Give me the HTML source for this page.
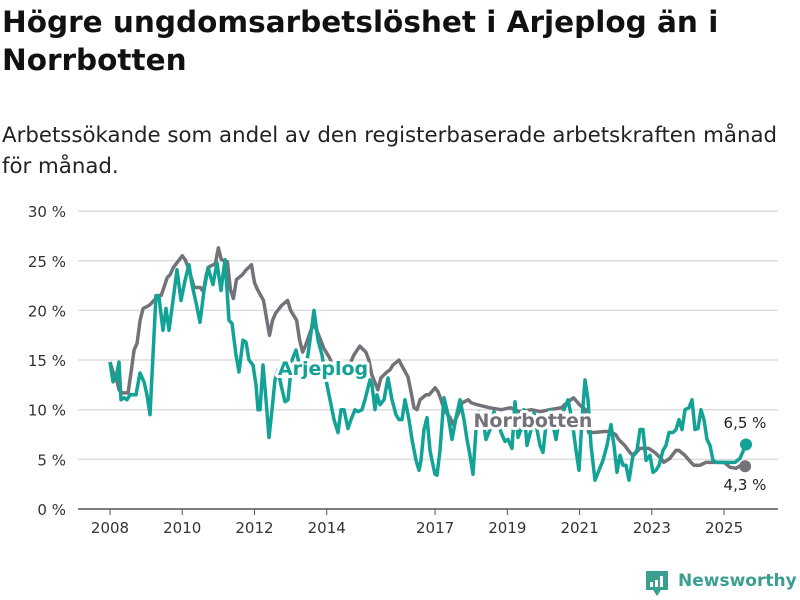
<!DOCTYPE html>
<html><head><meta charset="utf-8"><style>
body{margin:0;width:800px;height:600px;background:#fff;font-family:"Liberation Sans","DejaVu Sans",sans-serif;overflow:hidden;position:relative}
h1{position:absolute;left:2px;top:3px;margin:0;font-family:"DejaVu Sans",sans-serif;font-size:29.5px;line-height:38px;font-weight:bold;color:#111;white-space:nowrap}
.sub{position:absolute;left:2px;top:120px;margin:0;font-family:"DejaVu Sans",sans-serif;font-size:21.3px;line-height:31px;color:#222;white-space:nowrap}
svg{position:absolute;left:0;top:0}
</style></head><body>
<h1>Högre ungdomsarbetslöshet i Arjeplog än i<br>Norrbotten</h1>
<p class="sub">Arbetssökande som andel av den registerbaserade arbetskraften månad<br>för månad.</p>
<svg id="chart" width="800" height="600"></svg>
<div style="position:absolute;left:645px;top:570px;width:155px;height:28px">
<svg width="24" height="28" style="left:0;top:0"><path d="M1 1h22v19h-7l-4 6-4-6H1z" fill="#3a9e91"/><rect x="5" y="12" width="3" height="5" fill="#fff"/><rect x="10" y="10" width="3" height="7" fill="#fff"/><rect x="15" y="6" width="3" height="11" fill="#fff"/></svg>
<span style="position:absolute;left:33px;top:1px;font-family:'DejaVu Sans',sans-serif;font-size:17px;font-weight:bold;color:#3a9e91">Newsworthy</span></div>
<script>
const yTicks=[0,5,10,15,20,25,30];
const xTickYears=[2008,2010,2012,2014,2017,2019,2021,2023,2025];
const norrMonths=[0,1,2,3,4,6,7,8,9,10,11,13,14,16,17,19,20,21,23,24,25,26,27,28,30,31,32,33,35,36,37,39,40,41,42,44,45,47,48,49,51,52,53,54,55,57,59,60,62,63,64,65,67,68,70,71,73,75,78,80,81,83,85,86,87,89,90,92,93,94,96,97,99,100,101,102,103,105,106,108,109,110,111,113,114,116,117,119,120,122,126,130,133,136,140,143,146,150,151,154,156,158,159,161,164,166,168,169,171,173,174,176,178,179,181,183,184,186,188,189,191,193,194,196,198,201,204,206,208,209,211];
const norrValues=[14.8,13.8,13.3,12,11.7,11.7,13.8,16,16.7,19,20.2,20.5,20.8,21.5,21.5,23.3,23.6,24.3,25.1,25.5,25.1,24.3,23.3,22.3,22.3,21.9,23.6,24.4,24.7,26.3,25.1,24.9,22.1,21.2,23.1,23.6,24,24.6,22.8,22.1,21,19.2,17.5,19,19.7,20.5,21,20,19,17,15.8,16.5,18.2,18.5,17,16.2,15.2,13.5,14,14.8,15.5,16.4,15.8,15,13.5,12,13.2,13.8,14,14.5,15,14.4,13.3,11.8,10.2,10,11,11.5,11.5,12.2,11.8,11,10,9.2,8.5,9.8,10.7,11,10.7,10.5,10.2,10,10.2,9.8,10,9.8,10,10.2,10.5,11.2,10.5,10,7.7,7.7,7.8,7.8,7.5,7,6.4,5.6,5.4,6.1,6.1,6.1,5.7,5.1,4.7,5.1,5.9,5.9,5.4,4.7,4.4,4.4,4.7,4.7,4.7,4.2,4.1,4.3,4.3];
const arjeXpx=[110,113,116,119,121,124,127,130,133,136,140,144,147,150,153,156,159,163,166,169,173,177,181,185,189,192,196,200,204,208,213,217,221,225,229,232,236,239,243,246,249,253,256,258,260,263,266,269,272,275,278,281,285,288,292,296,299,305,310,314,318,322,326,330,334,338,341,344,348,351,355,358,362,365,370,372,375,377,380,384,388,392,396,399,402,405,409,412,416,419,421,424,427,430,432,435,437,440,444,448,452,456,460,464,467,470,473,476,479,483,486,490,494,498,502,505,508,512,515,518,521,524,527,531,534,537,540,543,546,550,553,556,560,564,568,572,576,579,582,585,588,591,595,599,603,607,611,614,617,620,623,626,629,633,637,640,643,646,650,653,656,659,663,666,669,673,676,679,682,685,689,692,695,698,701,704,707,710,713,716,720,735,740,746];
const arjeMonths=arjeXpx.map(x=>(x-110)/3.01);
const arjeValues=[14.8,12.8,13.2,14.8,11,11.2,11,11.5,11.5,11.5,13.7,12.8,11.5,9.5,15.5,21.5,21.3,18,20.2,18,21,24.1,21,23,24.6,22.6,20.8,18.8,22,24.3,22.6,24.8,22,25.1,19,18.7,15.5,13.8,17,16.8,15,14.5,12.5,10,10,14.5,11,7.2,10,13,14,12.5,10.8,11,15,16,14.7,13.5,17,20,17,15.5,13,11,9,7.7,10,10,8.1,9,10,9.8,10,11,13,12.5,10,11.5,10.5,11,13.2,11,9.5,9,9,11,9,7,4.9,3.9,4.9,8,9.2,5.9,4.9,3.5,3.4,5.9,11.2,9.5,7,9.2,11,9,7,5.4,3.5,8,9.8,9,7,8,9.8,8.5,7.5,6.8,7,6.1,10.8,7.2,8,10,6.4,8,9.7,8,6.4,5.7,8.5,10,8.5,7,9.5,10,11,9,5.9,3.9,9,13,11,6.4,2.9,3.9,4.9,6.4,8.5,6.4,3.7,5.4,4.4,4.4,2.9,5.4,5.9,8,8,4.9,5.4,3.7,3.9,4.4,5.9,6.4,7.7,7.7,8,9,8,10,10.2,11,8,8.1,10,9,7,6.4,4.9,4.7,4.7,4.7,5.1,6.5];
const svg=document.getElementById('chart');const NS='http://www.w3.org/2000/svg';
const X=m=>110+m*3.01, Y=v=>509-v*9.93;
function mk(t,a,p){const e=document.createElementNS(NS,t);for(const k in a)e.setAttribute(k,a[k]);(p||svg).appendChild(e);return e;}
yTicks.forEach(v=>{
const g=mk('line',{x1:78,x2:778,y1:Y(v),y2:Y(v),stroke:v===0?'#555':'#ddd','stroke-width':1.5});


const t=mk('text',{x:66,y:Y(v)+6,'text-anchor':'end','font-size':15,fill:'#333','font-family':'DejaVu Sans,sans-serif'});t.textContent=v+' %';


});
xTickYears.forEach(yr=>{const x=X((yr-2008)*12);
const l=mk('line',{x1:x,x2:x,y1:509,y2:515,stroke:'#555'});


const t=mk('text',{x:x,y:533,'text-anchor':'middle','font-size':15,fill:'#333','font-family':'DejaVu Sans,sans-serif'});t.textContent=yr;


});
function series(ms,vs,col,name){
const p=mk('polyline',{points:ms.map((m,i)=>X(m)+','+Y(vs[i])).join(' '),fill:'none',stroke:col,'stroke-width':3.5,'stroke-linejoin':'round'});


const n=ms.length-1;
const c=mk('circle',{cx:X(ms[n]),cy:Y(vs[n]),r:6,fill:col});


}
series(norrMonths,norrValues,'#747279','norrbotten');
series(arjeMonths,arjeValues,'#12a396','arjeplog');
function lab(txt,x,y,col,name,size,bold){
const t=mk('text',{x:x,y:y,'text-anchor':'middle','font-size':size,'font-weight':bold?'bold':'normal',fill:col,'font-family':'DejaVu Sans,sans-serif',stroke:'#fff','stroke-width':bold?6:0,'paint-order':'stroke','stroke-linejoin':'round'});t.textContent=txt;


}
lab('Arjeplog',323,375,'#12a396','arjeplog-series-label',19,true);
lab('Norrbotten',533,427,'#747279','norrbotten-series-label',19,true);
lab('6,5 %',745,428,'#222','arjeplog-end-value',15,false);
lab('4,3 %',745,490,'#222','norrbotten-end-value',15,false);
</script>
</body></html>
